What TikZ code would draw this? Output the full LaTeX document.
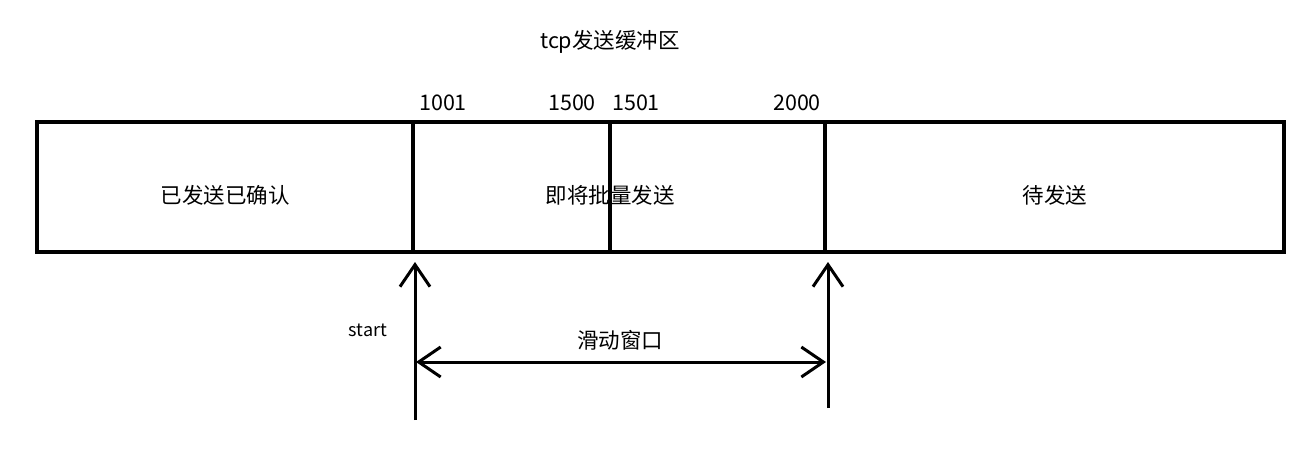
\documentclass[tikz,border=0pt]{standalone}
\usepackage{fontspec}
\setmainfont{Noto Sans CJK SC}
\usetikzlibrary{arrows.meta}
\begin{document}
\begin{tikzpicture}[x=1pt,y=-1pt,
  box/.style={draw=black,line width=4pt},
  lbl/.style={font=\fontsize{18}{22}\selectfont},
  big/.style={font=\fontsize{21.5}{26}\selectfont},
  tip/.tip={Straight Barb[length=22pt,width=30pt,line width=3pt]},
  arr/.style={line width=3pt,-tip}]
\useasboundingbox[fill=white] (0,0) rectangle (1315,463);
\draw[box] (37,122) rectangle (1284,252);
\draw[box] (413,122) -- (413,252);
\draw[box] (610,122) -- (610,252);
\draw[box] (825,122) -- (825,252);
\node[big] (title) at (610,42) {tcp发送缓冲区};
\node[big] (n1) at (443,103) {1001};
\node[big] (n2) at (572,103) {1500};
\node[big] (n3) at (636,103) {1501};
\node[big] (n4) at (797,103) {2000};
\node[big] (a) at (225,195) {已发送已确认};
\node[big] (b) at (610,195) {即将批量发送};
\node[big] (c) at (1055,195) {待发送};
\node[lbl] (s) at (368,330) {start};
\node[big] (w) at (620,340) {滑动窗口};
\coordinate (l0) at (415,420); \coordinate (l1) at (415,262);
\coordinate (r0) at (828,408); \coordinate (r1) at (828,262);
\coordinate (h0) at (416,362); \coordinate (h1) at (826,362);
\draw[arr] (l0) -- (l1);
\draw[arr] (r0) -- (r1);
\draw[line width=3pt,tip-tip] (h0) -- (h1);
\end{tikzpicture}
\end{document}
